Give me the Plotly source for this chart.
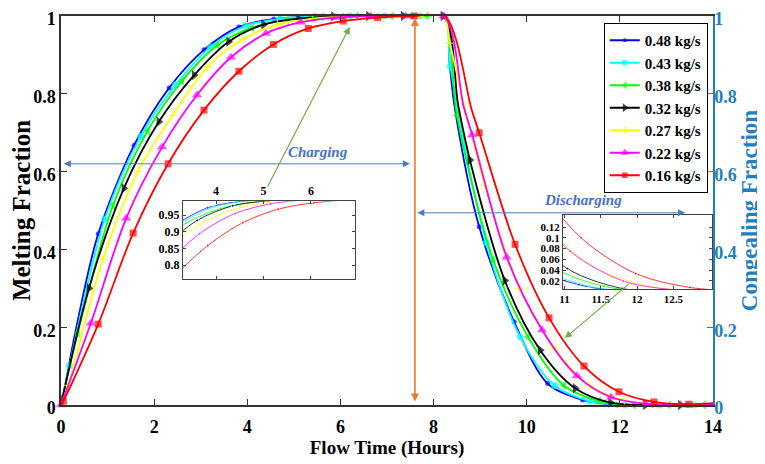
import plotly.graph_objects as go

# ---------------- data (flow time in hours, fraction) ----------------
# marker points (T_*, F_*) and extra line-only points (TX_*, FX_*)
T_048 = [0.04, 0.80, 1.57, 2.32, 3.07, 3.82, 4.57, 5.31, 6.06, 6.80, 7.55, 8.22, 8.98, 9.73, 10.45, 11.20, 11.95, 12.70, 13.45]
F_048 = [0.02, 0.44, 0.668, 0.815, 0.913, 0.972, 0.992, 0.998, 1.0, 1.0, 1.0, 1.0, 0.458, 0.214, 0.055, 0.013, 0.0, 0.0, 0.0]
TX_048 = [0.0, 0.33, 8.35, 8.46, 14.0]
FX_048 = [0.0, 0.20, 0.87, 0.76, 0.0]

T_043 = [0.18, 0.94, 1.71, 2.46, 3.21, 3.96, 4.71, 5.46, 6.20, 6.95, 7.70, 8.36, 9.13, 9.86, 10.60, 11.35, 12.10, 12.85, 13.60]
F_043 = [0.10, 0.478, 0.69, 0.823, 0.92, 0.975, 0.993, 0.999, 1.0, 1.0, 1.0, 0.87, 0.417, 0.175, 0.05, 0.01, 0.0, 0.0, 0.0]
TX_043 = [0.0, 8.22, 14.0]
FX_043 = [0.0, 1.0, 0.0]

T_038 = [0.36, 1.12, 1.86, 2.60, 3.36, 4.10, 4.85, 5.60, 6.35, 7.10, 7.85, 8.50, 9.28, 10.03, 10.80, 11.55, 12.30, 13.05, 13.80]
F_038 = [0.185, 0.514, 0.705, 0.833, 0.925, 0.97, 0.99, 0.998, 1.0, 1.0, 1.0, 0.745, 0.373, 0.175, 0.05, 0.01, 0.0, 0.0, 0.0]
TX_038 = [0.0, 8.22, 14.0]
FX_038 = [0.0, 1.0, 0.0]

T_032 = [0.60, 1.35, 2.10, 2.86, 3.60, 4.35, 5.10, 5.85, 6.60, 7.35, 8.20, 8.78, 9.53, 10.29, 11.04, 11.80, 12.55, 13.30]
F_032 = [0.30, 0.557, 0.728, 0.848, 0.934, 0.978, 0.993, 0.999, 1.0, 1.0, 1.0, 0.63, 0.32, 0.141, 0.043, 0.006, 0.0, 0.0]
TX_032 = [0.0, 8.53, 14.0]
FX_032 = [0.0, 0.77, 0.0]

T_027 = [0.15, 0.90, 1.65, 2.40, 3.15, 3.90, 4.65, 5.40, 6.15, 6.90, 7.65, 8.35, 9.10, 9.85, 10.60, 11.35, 12.10, 12.85, 13.60]
F_027 = [0.05, 0.375, 0.60, 0.745, 0.87, 0.94, 0.978, 0.993, 0.999, 1.0, 1.0, 0.93, 0.565, 0.30, 0.145, 0.05, 0.012, 0.001, 0.0]
TX_027 = [0.0, 8.22, 14.0]
FX_027 = [0.0, 1.0, 0.0]

T_022 = [0.0, 0.64, 1.40, 2.17, 2.92, 3.65, 4.40, 5.15, 5.90, 6.65, 7.40, 8.22, 8.83, 9.57, 10.33, 11.08, 11.81, 12.56, 13.30]
F_022 = [0.0, 0.21, 0.48, 0.663, 0.797, 0.894, 0.955, 0.984, 0.996, 1.0, 1.0, 1.0, 0.694, 0.38, 0.193, 0.075, 0.02, 0.003, 0.0]
TX_022 = [8.64, 14.0]
FX_022 = [0.77, 0.0]

T_016 = [0.05, 0.80, 1.55, 2.30, 3.07, 3.82, 4.56, 5.31, 6.06, 6.80, 7.58, 8.98, 9.75, 10.48, 11.23, 11.98, 12.73, 13.48]
F_016 = [0.01, 0.208, 0.442, 0.62, 0.758, 0.858, 0.927, 0.968, 0.987, 0.996, 1.0, 0.70, 0.413, 0.224, 0.10, 0.034, 0.008, 0.002]
TX_016 = [0.0, 8.24, 8.82, 14.0]
FX_016 = [0.0, 1.0, 0.758, 0.005]

NAMES = ["0.48 kg/s", "0.43 kg/s", "0.38 kg/s", "0.32 kg/s", "0.27 kg/s", "0.22 kg/s", "0.16 kg/s"]

X_TICKS = [0, 2, 4, 6, 8, 10, 12, 14]
Y_TICKS = [0, 0.2, 0.4, 0.6, 0.8, 1]
INSET1_X = [4, 5, 6]
INSET1_Y = [0.8, 0.85, 0.9, 0.95]
INSET2_X = [11, 11.5, 12, 12.5]
INSET2_Y = [0.02, 0.04, 0.06, 0.08, 0.1, 0.12]

# ---------------- styles ----------------
SERIES = [
    (T_048, F_048, TX_048, FX_048, "#0000FF", "circle", 5),
    (T_043, F_043, TX_043, FX_043, "#00FFFF", "circle", 7),
    (T_038, F_038, TX_038, FX_038, "#00FF00", "triangle-left", 8),
    (T_032, F_032, TX_032, FX_032, "#000000", "triangle-right", 9),
    (T_027, F_027, TX_027, FX_027, "#FFFF00", "cross-thin", 6),
    (T_022, F_022, TX_022, FX_022, "#FF00FF", "triangle-up", 9),
    (T_016, F_016, TX_016, FX_016, "#FF0000", "square", 7),
]

FONT = "Liberation Serif"
BLUE_AX = "#1f7fc0"

fig = go.Figure()


def merged(t, f, tx, fx, msize):
    pts = [(a, b, msize) for a, b in zip(t, f)] + [(a, b, 0) for a, b in zip(tx, fx)]
    pts.sort(key=lambda p: p[0])
    return [p[0] for p in pts], [p[1] for p in pts], [p[2] for p in pts]


for (t, f, tx, fx, col, sym, ms), name in zip(SERIES, NAMES):
    xs, ys, sz = merged(t, f, tx, fx, ms)
    fig.add_trace(go.Scatter(
        x=xs, y=ys, name=name, mode="lines+markers",
        line=dict(color=col, width=1.8, shape="spline", smoothing=0.9),
        marker=dict(color=col, symbol=sym, size=sz,
                    line=dict(color=col, width=1.5 if sym == "cross-thin" else 0)),
        cliponaxis=False, xaxis="x", yaxis="y",
    ))

# invisible trace to activate the right axis
fig.add_trace(go.Scatter(x=[None], y=[None], yaxis="y2", xaxis="x", showlegend=False, hoverinfo="skip"))

# inset traces
for ax_x, ax_y in (("x3", "y3"), ("x4", "y4")):
    for (t, f, tx, fx, col, sym, ms), name in zip(SERIES, NAMES):
        xs, ys, sz = merged(t, f, tx, fx, 3)
        fig.add_trace(go.Scatter(
            x=xs, y=ys, mode="lines+markers", showlegend=False,
            line=dict(color=col, width=0.8, shape="spline", smoothing=0.9),
            marker=dict(color=col, symbol="circle", size=sz),
            xaxis=ax_x, yaxis=ax_y,
        ))

tick_font = dict(family=FONT, size=18, color="black", weight="bold")
inset_font = dict(family=FONT, size=12, color="black", weight="bold")

fig.update_layout(
    width=757, height=456,
    margin=dict(l=53, r=52, t=8, b=59, autoexpand=False),
    paper_bgcolor="white", plot_bgcolor="white",
    showlegend=True,
    legend=dict(
        x=0.992, y=0.982, xanchor="right", yanchor="top",
        bgcolor="white", bordercolor="black", borderwidth=1,
        font=dict(family=FONT, size=15, color="black", weight="bold"),
        tracegroupgap=0,
    ),
    xaxis=dict(
        range=[0, 14], tickvals=X_TICKS, ticks="inside", ticklen=6, tickwidth=1.2,
        tickcolor="#333", showline=True, linecolor="#333", linewidth=1.5, mirror="ticks",
        showgrid=False, zeroline=False, tickfont=tick_font, ticklabeloverflow="allow",
        ticklabelstandoff=5,
        title=dict(text="Flow Time (Hours)", font=dict(family=FONT, size=19, color="black", weight="bold"), standoff=4),
    ),
    yaxis=dict(
        range=[0, 1], tickvals=Y_TICKS, ticks="inside", ticklen=6, tickwidth=1.2,
        tickcolor="#333", showline=True, linecolor="#333", linewidth=1.5,
        showgrid=False, zeroline=False, tickfont=tick_font, ticklabeloverflow="allow",
        ticklabelshift=3,
        title=dict(text="Melting Fraction", font=dict(family=FONT, size=25, color="black", weight="bold"), standoff=0),
    ),
    yaxis2=dict(
        range=[0, 1], tickvals=Y_TICKS, overlaying="y", side="right", anchor="x",
        ticks="inside", ticklen=6, tickwidth=1.2, tickcolor=BLUE_AX, ticklabelstandoff=-4,
        ticklabeloverflow="allow", ticklabelshift=3,
        showline=True, linecolor=BLUE_AX, linewidth=1.5, showgrid=False, zeroline=False,
        tickfont=dict(family=FONT, size=18, color=BLUE_AX, weight="bold"),
        title=dict(text="Congealing Fraction", font=dict(family=FONT, size=23, color=BLUE_AX, weight="bold"), standoff=0),
    ),
    xaxis3=dict(
        domain=[0.187, 0.451], anchor="y3", range=[3.3, 6.93], tickvals=INSET1_X, side="top",
        ticks="inside", ticklen=3, tickcolor="#444", showline=True, linecolor="#444", linewidth=1,
        mirror="ticks", showgrid=False, zeroline=False, tickfont=inset_font,
    ),
    yaxis3=dict(
        domain=[0.324, 0.524], anchor="x3", range=[0.758, 0.992], tickvals=INSET1_Y,
        ticks="inside", ticklen=3, tickcolor="#444", showline=True, linecolor="#444", linewidth=1,
        mirror="ticks", showgrid=False, zeroline=False, tickfont=inset_font,
    ),
    xaxis4=dict(
        domain=[0.770, 0.998], anchor="y4", range=[10.98, 13.03], tickvals=INSET2_X,
        ticks="inside", ticklen=3, tickcolor="#444", showline=True, linecolor="#444", linewidth=1,
        mirror="ticks", showgrid=False, zeroline=False, tickfont=dict(family=FONT, size=11, color="black", weight="bold"),
    ),
    yaxis4=dict(
        domain=[0.298, 0.488], anchor="x4", range=[0.005, 0.142], tickvals=INSET2_Y,
        ticks="inside", ticklen=3, tickcolor="#444", showline=True, linecolor="#444", linewidth=1,
        mirror="ticks", showgrid=False, zeroline=False, tickfont=dict(family=FONT, size=11, color="black", weight="bold"),
    ),
)

arrow_common = dict(xref="x", yref="y", axref="x", ayref="y", text="", showarrow=True, standoff=0, startstandoff=0)
annotations = [
    dict(x=7.6, y=0.995, ax=7.6, ay=0.005, arrowside="end+start", arrowhead=2, startarrowhead=2,
         arrowsize=1, startarrowsize=1, arrowwidth=1.6, arrowcolor="#ED7D31", **arrow_common),
    dict(x=7.49, y=0.62, ax=0.03, ay=0.62, arrowside="end+start", arrowhead=2, startarrowhead=2,
         arrowsize=1.4, startarrowsize=1.4, arrowwidth=1, arrowcolor="#4a7ebb", **arrow_common),
    dict(x=13.4, y=0.494, ax=7.62, ay=0.494, arrowside="end+start", arrowhead=2, startarrowhead=2,
         arrowsize=1.4, startarrowsize=1.4, arrowwidth=1, arrowcolor="#4a7ebb", **arrow_common),
    dict(x=6.2, y=0.972, ax=4.42, ay=0.558, arrowhead=2, arrowsize=1.2, arrowwidth=1.2,
         arrowcolor="#70AD47", **arrow_common),
    dict(x=10.82, y=0.172, ax=12.22, ay=0.314, arrowhead=2, arrowsize=1.2, arrowwidth=1.2,
         arrowcolor="#70AD47", **arrow_common),
    dict(x=5.52, y=0.65, xref="x", yref="y", text="Charging", showarrow=False,
         font=dict(family=FONT, size=15, color="#4472C4", weight="bold", style="italic")),
    dict(x=11.2, y=0.527, xref="x", yref="y", text="Discharging", showarrow=False,
         font=dict(family=FONT, size=15, color="#4472C4", weight="bold", style="italic")),
]
fig.update_layout(annotations=annotations)

fig.write_html("out.html")
